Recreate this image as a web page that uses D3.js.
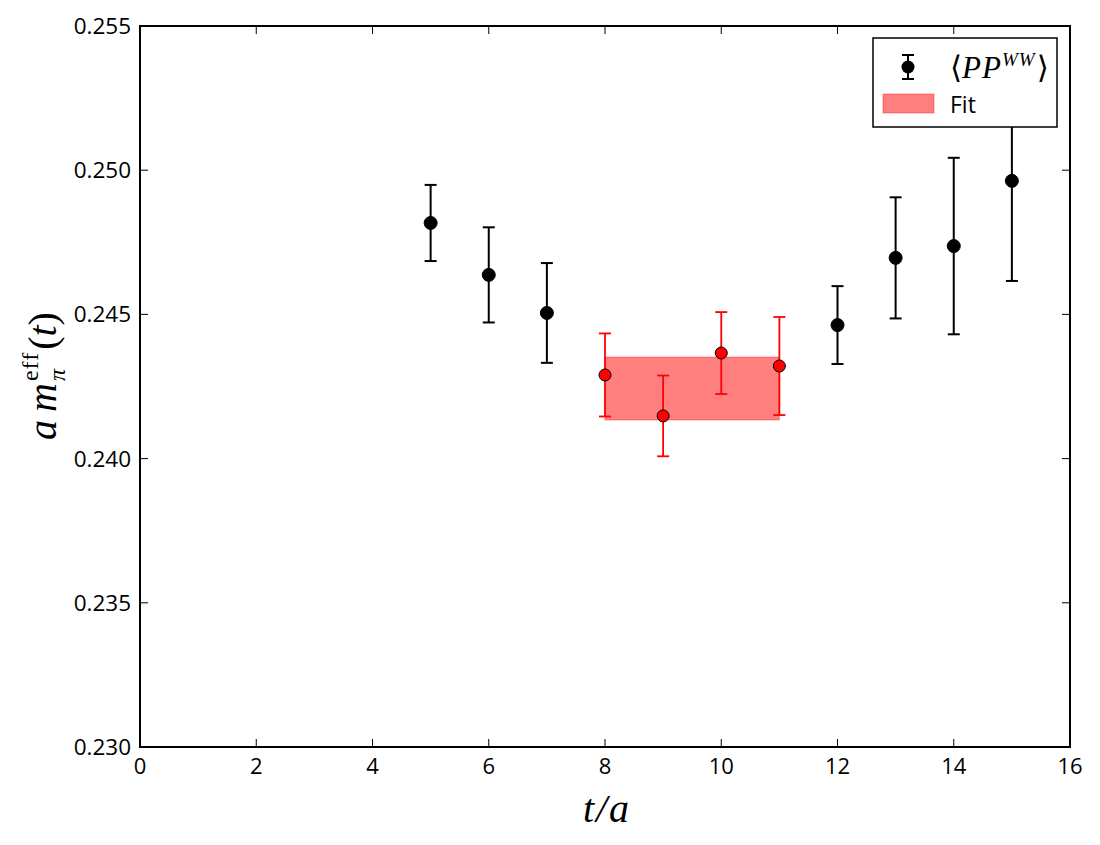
<!DOCTYPE html>
<html><head><meta charset="utf-8">
<script src="https://cdn.jsdelivr.net/npm/d3@7"></script>
<style>body{margin:0;background:#fff}</style>
</head><body>
<svg id="chart" width="1100" height="845"></svg>
<script>
// Data
const tBlack = [5, 6, 7, 12, 13, 14, 15];
const mBlack = [0.24817, 0.24637, 0.24505, 0.24463, 0.24696, 0.24737, 0.24963];
const eBlack = [0.00132, 0.00165, 0.00173, 0.00135, 0.00210, 0.00306, 0.00347];
const tRed = [8, 9, 10, 11];
const mRed = [0.24290, 0.24148, 0.24366, 0.24321];
const eRed = [0.00144, 0.00140, 0.00142, 0.00170];
const fitRange = [8, 11];
const fitBand = [0.24134, 0.24352];
const xTicks = [0, 2, 4, 6, 8, 10, 12, 14, 16];
const yTicks = [0.230, 0.235, 0.240, 0.245, 0.250, 0.255];

const svg = d3.select("#chart");
const L = 140, R = 1070, T = 26, B = 747;
const x = d3.scaleLinear().domain([0, 16]).range([L, R]);
const y = d3.scaleLinear().domain([0.230, 0.255]).range([B, T]);
const tickFont = "'Open Sans', sans-serif";

// fit band
svg.append("rect")
  .attr("x", x(fitRange[0])).attr("width", x(fitRange[1]) - x(fitRange[0]))
  .attr("y", y(fitBand[1])).attr("height", y(fitBand[0]) - y(fitBand[1]))
  .attr("fill", "rgba(255,0,0,0.5)").attr("stroke", "rgba(255,0,0,0.25)").attr("stroke-width", 1.5);

function drawSeries(ts, ms, es, color, lw, r, edge) {
  const g = svg.append("g");
  ts.forEach((t, i) => {
    const cx = x(t), top = y(ms[i] + es[i]), bot = y(ms[i] - es[i]);
    g.append("line").attr("x1", cx).attr("x2", cx).attr("y1", top).attr("y2", bot)
      .attr("stroke", color).attr("stroke-width", lw);
    [top, bot].forEach(yy => g.append("line").attr("x1", cx - 6).attr("x2", cx + 6)
      .attr("y1", yy).attr("y2", yy).attr("stroke", color).attr("stroke-width", lw));
    g.append("circle").attr("cx", cx).attr("cy", y(ms[i])).attr("r", r)
      .attr("fill", color).attr("stroke", edge).attr("stroke-width", 1);
  });
}
drawSeries(tBlack, mBlack, eBlack, "#000", 2, 6.5, "#000");
drawSeries(tRed, mRed, eRed, "#ff0000", 1.8, 6, "#000");

// axes frame & ticks (inward, all sides)
const ax = svg.append("g");
ax.append("rect").attr("x", L).attr("y", T).attr("width", R - L).attr("height", B - T)
  .attr("fill", "none").attr("stroke", "#000").attr("stroke-width", 2);
xTicks.forEach(v => {
  ax.append("line").attr("x1", x(v)).attr("x2", x(v)).attr("y1", B).attr("y2", B - 8).attr("stroke", "#000").attr("stroke-width", 1);
  ax.append("line").attr("x1", x(v)).attr("x2", x(v)).attr("y1", T).attr("y2", T + 8).attr("stroke", "#000").attr("stroke-width", 1);
  ax.append("text").attr("x", x(v)).attr("y", B + 27).attr("text-anchor", "middle")
    .attr("font-family", tickFont).attr("font-size", 22).text(v);
});
yTicks.forEach(v => {
  ax.append("line").attr("x1", L).attr("x2", L + 8).attr("y1", y(v)).attr("y2", y(v)).attr("stroke", "#000").attr("stroke-width", 1);
  ax.append("line").attr("x1", R).attr("x2", R - 8).attr("y1", y(v)).attr("y2", y(v)).attr("stroke", "#000").attr("stroke-width", 1);
  ax.append("text").attr("x", L - 9).attr("y", y(v) + 8).attr("text-anchor", "end")
    .attr("font-family", tickFont).attr("font-size", 22.5).text(d3.format(".3f")(v));
});

// axis labels
const serif = "'Liberation Serif', 'DejaVu Serif', serif";
svg.append("text").attr("x", (L + R) / 2 + 2).attr("y", 822).attr("text-anchor", "middle")
  .attr("font-family", serif).attr("font-style", "italic").attr("font-size", 40)
  .attr("letter-spacing", 2).text("t/a");
const yl = svg.append("text").attr("transform", "translate(56," + 376 + ") rotate(-90)")
  .attr("text-anchor", "middle").attr("font-family", serif).attr("font-size", 40);
yl.append("tspan").attr("font-style", "italic").text("a");
yl.append("tspan").attr("font-style", "italic").attr("dx", 8).text("m");
yl.append("tspan").attr("font-style", "italic").attr("font-size", 24).attr("dy", 9).attr("dx", 2).text("π");
yl.append("tspan").attr("font-size", 24).attr("dy", -27).attr("dx", -12).attr("letter-spacing", 1).text("eff");
yl.append("tspan").attr("dy", 18).attr("dx", 2).text("(");
yl.append("tspan").attr("font-style", "italic").text("t");
yl.append("tspan").text(")");

// legend
const lg = svg.append("g");
lg.append("rect").attr("x", 873).attr("y", 38).attr("width", 184).attr("height", 89)
  .attr("fill", "#fff").attr("stroke", "#000").attr("stroke-width", 1.5);
lg.append("line").attr("x1", 908).attr("x2", 908).attr("y1", 55).attr("y2", 79).attr("stroke", "#000").attr("stroke-width", 2);
[55, 79].forEach(yy => lg.append("line").attr("x1", 902).attr("x2", 914).attr("y1", yy).attr("y2", yy).attr("stroke", "#000").attr("stroke-width", 2));
lg.append("circle").attr("cx", 908).attr("cy", 67).attr("r", 6.5).attr("fill", "#000");
const lt = lg.append("text").attr("x", 950).attr("y", 78).attr("font-family", serif).attr("font-size", 31);
lt.append("tspan").text("⟨");
lt.append("tspan").attr("font-style", "italic").attr("letter-spacing", 1).text("PP");
lt.append("tspan").attr("font-style", "italic").attr("font-size", 19).attr("dy", -12).attr("letter-spacing", 1).text("WW");
lt.append("tspan").attr("dy", 12).attr("dx", 1).text("⟩");
lg.append("rect").attr("x", 883).attr("y", 94).attr("width", 51).attr("height", 19)
  .attr("fill", "rgba(255,0,0,0.5)").attr("stroke", "rgba(255,0,0,0.25)").attr("stroke-width", 1.5);
lg.append("text").attr("x", 950).attr("y", 113).attr("font-family", tickFont).attr("font-size", 23).text("Fit");
</script>
</body></html>
